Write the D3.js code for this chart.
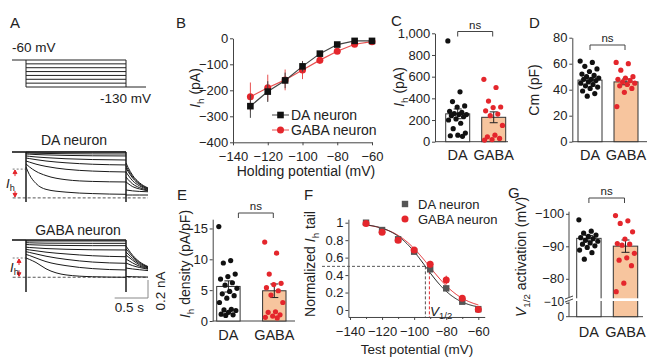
<!DOCTYPE html>
<html><head><meta charset="utf-8">
<script src="https://cdn.jsdelivr.net/npm/d3@7"></script>
<style>body{margin:0;background:#fff}svg{display:block}</style>
</head><body><svg id="c" width="650" height="357"></svg>
<script>
// ---------------- DATA ----------------
// Panel A: voltage protocol (mV) and current traces (pA, relative to holding)
const stepLevels = [-60, -70, -80, -90, -100, -110, -120, -130];
const holdingMV = -60, tailMV = -130;
const stepTimes = [0, 0.05, 0.15, 0.3, 0.6, 1.0, 1.5];
const tailTimes = [1.5, 1.53, 1.6, 1.7, 1.83];
const daStep = [
  [0, 0, 0, 0, 0, 0, 0],
  [-11, -12, -14, -16, -19, -21, -22],
  [-22, -24, -28, -32, -38, -42, -44],
  [-44, -48, -55, -63, -75, -84, -89],
  [-67, -73, -85, -100, -120, -136, -144],
  [-100, -112, -135, -160, -192, -212, -222],
  [-133, -165, -215, -262, -308, -327, -333],
  [-167, -250, -350, -415, -446, -462, -470]
];
const daTail = [
  [-122, -170, -260, -340, -400],
  [-156, -195, -275, -350, -405],
  [-178, -215, -290, -360, -410],
  [-222, -255, -320, -375, -418],
  [-278, -305, -355, -395, -425],
  [-333, -350, -385, -410, -432],
  [-422, -425, -432, -438, -442],
  [-478, -478, -478, -478, -478]
];
const gabaStep = [
  [-11, -11, -11, -11, -11, -11, -11],
  [-30, -31, -33, -35, -36, -37, -37],
  [-50, -52, -55, -58, -61, -63, -63],
  [-80, -83, -88, -95, -103, -109, -111],
  [-105, -110, -120, -135, -155, -175, -186],
  [-130, -138, -155, -180, -215, -245, -259],
  [-160, -172, -200, -240, -285, -318, -333],
  [-200, -215, -250, -320, -388, -408, -414]
];
const gabaTail = [
  [-67, -100, -170, -240, -295],
  [-100, -125, -185, -250, -300],
  [-133, -155, -205, -262, -305],
  [-167, -185, -225, -275, -310],
  [-211, -225, -255, -290, -318],
  [-256, -265, -285, -305, -325],
  [-311, -315, -322, -330, -340],
  [-405, -406, -408, -410, -412]
];
const daTransient = -555, gabaTransient = -578;
const daIhLevels = [-190, -510], gabaIhLevels = [-200, -414];
const scaleBarSec = 0.5, scaleBarPA = 200;

// Panel B: I-V
const hpV = [-130, -120, -110, -100, -90, -80, -70, -60];
const ihDA = [-261, -205, -162, -108, -59, -24, -10, -10];
const ihDAsem = [45, 40, 30, 20, 8, 6, 4, 3];
const ihGABA = [-225, -190, -160, -122, -84, -50, -23, -13];
const ihGABAsem = [55, 50, 40, 35, 15, 8, 5, 3];
const bTicksX = [-140, -120, -100, -80, -60];
const bTicksY = [0, -100, -200, -300, -400];

const groups = ["DA", "GABA"];
// Panel C: Ih (pA)
const cMeans = [257, 225], cSems = [45, 50];
const cDA = [930, 460, 370, 330, 320, 280, 270, 260, 250, 250, 240, 230, 210, 200, 170, 120, 80, 60, 55, 50];
const cGABA = [575, 500, 375, 320, 315, 285, 255, 240, 150, 60, 45, 30, 20, 15];
const cTicks = [0, 200, 400, 600, 800, 1000];
// Panel D: Cm (pF)
const dMeans = [47.4, 46.0], dSems = [1.5, 2.2];
const dDA = [62, 61, 58, 56, 54, 52, 51, 50, 49, 48, 48, 47, 46, 45, 44, 43, 42, 41, 39, 37, 35];
const dGABA = [61, 60, 55, 50, 49, 48, 47, 46, 45, 44, 43, 41, 38, 27];
const dTicks = [0, 20, 40, 60, 80];
// Panel E: Ih density (pA/pF)
const eMeans = [5.6, 4.9], eSems = [0.9, 1.1];
const eDA = [15.3, 9.8, 9.4, 7.6, 7.2, 6.8, 6.2, 5.8, 5.3, 4.8, 4.4, 4.1, 3.7, 3.0, 1.9, 1.8, 1.7, 1.4, 1.1, 1.0, 0.9];
const eGABA = [12.8, 11.0, 7.6, 6.1, 5.9, 5.4, 4.9, 4.2, 3.0, 1.5, 1.4, 1.0, 0.8, 0.6, 0.5];
const eTicks = [0, 5, 10, 15];
// Panel F: normalized tail current
const tpV = [-130, -120, -110, -100, -90, -80, -70, -60];
const ntDA = [1.0, 0.916, 0.81, 0.668, 0.466, 0.248, 0.095, 0.01];
const ntDAsem = [0.01, 0.02, 0.02, 0.02, 0.03, 0.02, 0.02, 0.01];
const ntGABA = [0.99, 0.89, 0.80, 0.687, 0.523, 0.343, 0.134, 0.005];
const ntGABAsem = [0.01, 0.03, 0.03, 0.03, 0.04, 0.05, 0.03, 0.01];
const fitDA = [-93, 10], fitGABA = [-90.5, 11]; // Boltzmann V1/2, slope k
const fTicksX = [-140, -120, -100, -80, -60];
const fTicksY = [0, 0.2, 0.4, 0.6, 0.8, 1];
// Panel G: V1/2 activation (mV)
const gMeans = [-92.6, -90.2], gSems = [0.9, 1.9];
const gDA = [-98.3, -94.8, -94.2, -93.6, -93.2, -92.8, -92.5, -92.0, -91.7, -91.2, -90.8, -90.3, -89.8, -89.0, -88.2, -86.2];
const gGABA = [-99.6, -98.0, -97.2, -94.6, -92.4, -91.0, -90.8, -90.5, -88.0, -86.6, -85.9, -84.2, -78.8, -76.2];
const gTicksUpper = [-100, -90, -80], gTicksLower = [-10, 0];

// ---------------- STYLE ----------------
const FONT = '"Liberation Sans", Arial, Helvetica, sans-serif';
const RED = '#e4262c', PEACH = '#f7c59e', INK = '#222', AX = '#444';
const TICK_FS = 13, LAB_FS = 14, CAT_FS = 14.5;

const svg = d3.select('#c').attr('font-family', FONT);

function txt(x, y, s, fs, anchor) {
  return svg.append('text').attr('x', x).attr('y', y).attr('font-size', fs)
    .attr('text-anchor', anchor || 'start').attr('fill', INK).text(s);
}
function rich(sel, parts, fs) {
  parts.forEach(p => {
    const ts = sel.append('tspan').text(p.t);
    if (p.i) ts.attr('font-style', 'italic');
    if (p.sub) ts.attr('font-size', fs * 0.7).attr('dy', fs * 0.25);
    if (p.back) ts.attr('dy', -fs * 0.25);
  });
}
function ylabel(x, y, parts, fs) {
  const t = svg.append('text').attr('transform', `translate(${x},${y}) rotate(-90)`)
    .attr('text-anchor', 'middle').attr('font-size', fs).attr('fill', INK);
  rich(t, parts, fs);
  return t;
}
function styleAxis(g, fs) {
  g.attr('font-family', FONT).attr('font-size', fs);
  g.selectAll('.domain').attr('stroke', AX);
  g.selectAll('.tick line').attr('stroke', AX);
  g.selectAll('.tick text').attr('fill', INK);
}
function panelLetter(x, y, s) { txt(x, y, s, 15); }

// ---------------- PANEL A ----------------
panelLetter(10, 28, 'A');
const tA = d3.scaleLinear().domain([0, 1.5]).range([26, 126]);
const vP = d3.scaleLinear().domain([-60, -130]).range([60, 87]);
txt(12, 52, '-60 mV', 13.5);
txt(151, 103, '-130 mV', 13.5, 'end');
const gP = svg.append('g').attr('stroke', '#222').attr('stroke-width', 1).attr('fill', 'none');
stepLevels.forEach(v => gP.append('line').attr('x1', tA(0)).attr('x2', tA(1.5)).attr('y1', vP(v)).attr('y2', vP(v)));
gP.append('line').attr('x1', tA(-0.21)).attr('x2', tA(0)).attr('y1', vP(holdingMV)).attr('y2', vP(holdingMV));
[0, 1.5].forEach(t => gP.append('line').attr('x1', tA(t)).attr('x2', tA(t)).attr('y1', vP(holdingMV)).attr('y2', vP(tailMV)));
gP.append('line').attr('x1', tA(1.5)).attr('x2', tA(1.8)).attr('y1', vP(tailMV)).attr('y2', vP(tailMV));

function drawTraces(y0, steps, tails, transient, ihLv, arrowX, label, labelX, labelY) {
  const yS = d3.scaleLinear().domain([0, -500]).range([y0, y0 + 45]);
  txt(labelX, labelY, label, LAB_FS, 'middle');
  const g = svg.append('g').attr('fill', 'none').attr('stroke', '#1a1a1a').attr('stroke-width', 1);
  const line = d3.line().x(d => tA(d[0])).y(d => yS(d[1])).curve(d3.curveMonotoneX);
  g.append('line').attr('x1', tA(-0.2)).attr('x2', tA(1.83)).attr('y1', yS(ihLv[1])).attr('y2', yS(ihLv[1]))
    .attr('stroke', '#555').attr('stroke-dasharray', '3,2');
  g.append('line').attr('x1', tA(-0.2)).attr('x2', tA(0)).attr('y1', yS(ihLv[0])).attr('y2', yS(ihLv[0]))
    .attr('stroke', '#777').attr('stroke-dasharray', '2,2');
  g.append('path').attr('d', line([[-0.21, 0], [0, 0]])).attr('stroke-width', 1.6);
  steps.forEach(tr => g.append('path').attr('d', line(stepTimes.map((t, i) => [t, tr[i]]))));
  tails.forEach(tr => g.append('path').attr('d', line(tailTimes.map((t, i) => [t, tr[i]]))));
  g.append('path').attr('d', line([[0, 0], [1.5, 0]])).attr('stroke-width', 1.6);
  [0, 1.5].forEach(t => g.append('line').attr('x1', tA(t)).attr('x2', tA(t))
    .attr('y1', yS(0)).attr('y2', yS(transient)).attr('stroke-width', 1.5));
  const ya = yS(ihLv[0]), yb = yS(ihLv[1]);
  const ga = svg.append('g').attr('stroke', RED).attr('fill', RED).attr('stroke-width', 1);
  ga.append('line').attr('x1', arrowX).attr('x2', arrowX).attr('y1', ya + 1).attr('y2', ya + 7);
  ga.append('path').attr('d', `M${arrowX},${ya + 1}l-2,3.5h4z`);
  ga.append('line').attr('x1', arrowX).attr('x2', arrowX).attr('y1', yb - 7).attr('y2', yb - 1);
  ga.append('path').attr('d', `M${arrowX},${yb - 1}l-2,-3.5h4z`);
  const lt = svg.append('text').attr('x', arrowX - 9).attr('y', (ya + yb) / 2 + 4).attr('font-size', 13).attr('fill', INK);
  rich(lt, [{ t: 'I', i: 1 }, { t: 'h', sub: 1 }], 13);
  return yS;
}
drawTraces(152, daStep, daTail, daTransient, daIhLevels, 15, 'DA neuron', 74, 145);
const yGa = drawTraces(240, gabaStep, gabaTail, gabaTransient, gabaIhLevels, 19, 'GABA neuron', 78, 235);
{
  const xr = 148, yb = 298;
  const w = tA(scaleBarSec) - tA(0), h = yGa(-scaleBarPA) - yGa(0);
  svg.append('path').attr('d', `M${xr - w},${yb}H${xr}V${yb - h}`).attr('fill', 'none').attr('stroke', '#888').attr('stroke-width', 1);
  txt(xr - w / 2 - 2, 312, '0.5 s', 13.5, 'middle');
  svg.append('text').attr('transform', `translate(${165},${yb - h / 2 + 2}) rotate(-90)`).attr('text-anchor', 'middle')
    .attr('font-size', 13.5).attr('fill', INK).text('0.2 nA');
}

// ---------------- PANEL B ----------------
panelLetter(176, 28, 'B');
const xB = d3.scaleLinear().domain([-140, -60]).range([233, 372]);
const yB = d3.scaleLinear().domain([-400, 0]).range([142.3, 38.3]);
styleAxis(svg.append('g').attr('transform', 'translate(0,142.3)')
  .call(d3.axisBottom(xB).tickValues(bTicksX).tickSize(3).tickPadding(6.5).tickSizeOuter(0)), TICK_FS);
styleAxis(svg.append('g').attr('transform', 'translate(233,0)')
  .call(d3.axisLeft(yB).tickValues(bTicksY).tickSize(3).tickPadding(1.8).tickSizeOuter(0)), TICK_FS);
txt(306, 176, 'Holding potential (mV)', LAB_FS, 'middle');
ylabel(200, 88, [{ t: 'I', i: 1 }, { t: 'h', sub: 1 }, { t: ' (pA)', back: 1 }], LAB_FS);
function ivSeries(means, sems, col, lineCol, shape) {
  const g = svg.append('g');
  hpV.forEach((v, i) => g.append('line').attr('x1', xB(v)).attr('x2', xB(v))
    .attr('y1', yB(means[i] - sems[i])).attr('y2', yB(means[i] + sems[i])).attr('stroke', lineCol).attr('stroke-width', 1));
  g.append('path').attr('d', d3.line().x((d, i) => xB(hpV[i])).y(d => yB(d))(means))
    .attr('fill', 'none').attr('stroke', lineCol).attr('stroke-width', 1.2);
  means.forEach((m, i) => {
    if (shape === 'sq') g.append('rect').attr('x', xB(hpV[i]) - 3.3).attr('y', yB(m) - 3.3).attr('width', 6.6).attr('height', 6.6).attr('fill', col);
    else g.append('circle').attr('cx', xB(hpV[i])).attr('cy', yB(m)).attr('r', 3.5).attr('fill', col);
  });
}
ivSeries(ihGABA, ihGABAsem, RED, '#e85050', 'c');
ivSeries(ihDA, ihDAsem, '#111', '#444', 'sq');
svg.append('line').attr('x1', 272).attr('x2', 289).attr('y1', 115).attr('y2', 115).attr('stroke', '#444');
svg.append('rect').attr('x', 280.5 - 3.3).attr('y', 115 - 3.3).attr('width', 6.6).attr('height', 6.6).attr('fill', '#111');
txt(291, 120, 'DA neuron', LAB_FS);
svg.append('line').attr('x1', 272).attr('x2', 289).attr('y1', 130).attr('y2', 130).attr('stroke', '#e85050');
svg.append('circle').attr('cx', 280.5).attr('cy', 130).attr('r', 3.5).attr('fill', RED);
txt(291, 135, 'GABA neuron', LAB_FS);

// ---------------- BAR PANELS ----------------
function jit(i) { return ((i * 0.618034) % 1) - 0.5; }
function drawBars(xS, yF, yBase, means, sems, dotSets, ySplit) {
  const bw = xS.bandwidth();
  groups.forEach((gname, k) => {
    const x0 = xS(gname);
    svg.append('rect').attr('x', x0).attr('width', bw).attr('y', Math.min(yF(means[k]), yBase))
      .attr('height', Math.abs(yBase - yF(means[k])))
      .attr('fill', k === 0 ? '#fff' : PEACH).attr('stroke', '#333').attr('stroke-width', 1);
    if (ySplit) svg.append('rect').attr('x', x0 - 1.5).attr('width', bw + 3).attr('y', ySplit[0]).attr('height', ySplit[1] - ySplit[0]).attr('fill', '#fff');
    const cx = x0 + bw / 2;
    const ya = yF(means[k] - sems[k]), yb = yF(means[k] + sems[k]);
    const eg = svg.append('g').attr('stroke', '#222').attr('stroke-width', 1);
    eg.append('line').attr('x1', cx).attr('x2', cx).attr('y1', ya).attr('y2', yb);
    [ya, yb].forEach(yy => eg.append('line').attr('x1', cx - 4).attr('x2', cx + 4).attr('y1', yy).attr('y2', yy));
    dotSets[k].forEach((v, i) => svg.append('circle').attr('cx', cx + jit(i) * bw * 0.82).attr('cy', yF(v))
      .attr('r', 2.6).attr('fill', k === 0 ? '#111' : RED));
  });
}
function bracket(x1, x2, y, label) {
  svg.append('path').attr('d', `M${x1},${y + 5}V${y}H${x2}V${y + 5}`).attr('fill', 'none').attr('stroke', '#444').attr('stroke-width', 1);
  txt((x1 + x2) / 2, y - 3, label, 11.5, 'middle');
}
function catLabels(xS, y) {
  groups.forEach(g => txt(xS(g) + xS.bandwidth() / 2, y, g, CAT_FS, 'middle'));
}
function barPanel(o) {
  const y = d3.scaleLinear().domain(o.yDomain).range(o.yRange);
  const xS = d3.scaleBand().domain(groups).range(o.xRange).paddingInner(o.pad).paddingOuter(0);
  styleAxis(svg.append('g').attr('transform', `translate(${o.axisX},0)`)
    .call(d3.axisLeft(y).tickValues(o.ticks).tickSize(3).tickPadding(1.8).tickSizeOuter(0)), TICK_FS);
  svg.append('line').attr('x1', o.axisX).attr('x2', o.axisEnd).attr('y1', o.yRange[0]).attr('y2', o.yRange[0]).attr('stroke', AX);
  drawBars(xS, y, o.yRange[0], o.means, o.sems, o.dots);
  catLabels(xS, o.catY);
  const c0 = xS('DA') + xS.bandwidth() / 2, c1 = xS('GABA') + xS.bandwidth() / 2;
  bracket(c0 + (o.bIn || 0), c1 - 1, o.bracketY, 'ns');
  return { y, xS };
}
// C
panelLetter(391, 26, 'C');
barPanel({ yDomain: [0, 1000], yRange: [141.7, 33.3], xRange: [445.7, 505.7], pad: 1 / 3, axisX: 435, axisEnd: 508,
  ticks: cTicks, means: cMeans, sems: cSems, dots: [cDA, cGABA], catY: 160, bracketY: 31.5 });
ylabel(404, 87, [{ t: 'I', i: 1 }, { t: 'h', sub: 1 }, { t: ' (pA)', back: 1 }], LAB_FS);
// D
panelLetter(529, 28, 'D');
barPanel({ yDomain: [0, 80], yRange: [141.7, 37.7], xRange: [578, 638], pad: 1 / 3, axisX: 572.3, axisEnd: 647,
  ticks: dTicks, means: dMeans, sems: dSems, dots: [dDA, dGABA], catY: 160, bracketY: 45 });
ylabel(539, 90, [{ t: 'Cm (pF)' }], LAB_FS);
// E
panelLetter(177, 200, 'E');
barPanel({ yDomain: [0, 16.5], yRange: [321, 219.2], xRange: [216.7, 286], pad: 0.49, axisX: 212.7, axisEnd: 295,
  ticks: eTicks, means: eMeans, sems: eSems, dots: [eDA, eGABA], catY: 340, bracketY: 213, bIn: 10 });
ylabel(190, 264, [{ t: 'I', i: 1 }, { t: 'h', sub: 1 }, { t: ' density (pA/pF)', back: 1 }], LAB_FS);

// ---------------- PANEL F ----------------
panelLetter(304, 200, 'F');
const xF = d3.scaleLinear().domain([-140, -60]).range([350, 478.3]);
const yF = d3.scaleLinear().domain([0, 1]).range([310, 222.7]);
const xFa = xF.copy().domain([-141, -56]).range([xF(-141), xF(-56)]);
const yFa = yF.copy().domain([-0.08, 1.04]).range([yF(-0.08), yF(1.04)]);
styleAxis(svg.append('g').attr('transform', `translate(0,${yF(-0.08)})`)
  .call(d3.axisBottom(xFa).tickValues(fTicksX).tickFormat(d3.format('d')).tickSize(3).tickPadding(6.5).tickSizeOuter(0)), TICK_FS);
svg.append('g').attr('transform', `translate(0,${yF(-0.08)})`)
  .call(d3.axisBottom(xFa).tickValues(d3.range(-130, -60, 20)).tickFormat('').tickSize(2).tickSizeOuter(0))
  .call(g => { g.select('.domain').remove(); g.selectAll('line').attr('stroke', AX); });
styleAxis(svg.append('g').attr('transform', `translate(${xF(-141)},0)`)
  .call(d3.axisLeft(yFa).tickValues(fTicksY).tickFormat(d3.format('~g')).tickSize(3).tickPadding(1.8).tickSizeOuter(0)), TICK_FS);
txt(417, 354, 'Test potential (mV)', LAB_FS - 0.5, 'middle');
ylabel(315, 264, [{ t: 'Normalized ' }, { t: 'I', i: 1 }, { t: 'h', sub: 1 }, { t: ' tail', back: 1 }], LAB_FS);
svg.append('line').attr('x1', 322).attr('x2', xF(fitGABA[0])).attr('y1', yF(0.5)).attr('y2', yF(0.5))
  .attr('stroke', '#555').attr('stroke-dasharray', '3,2');
svg.append('line').attr('x1', xF(fitDA[0])).attr('x2', xF(fitDA[0])).attr('y1', yF(0.5)).attr('y2', yF(-0.08))
  .attr('stroke', '#555').attr('stroke-dasharray', '3,2');
svg.append('line').attr('x1', xF(fitGABA[0])).attr('x2', xF(fitGABA[0])).attr('y1', yF(0.5)).attr('y2', yF(-0.08))
  .attr('stroke', RED).attr('stroke-dasharray', '3,2');
const boltz = p => v => 1 / (1 + Math.exp((v - p[0]) / p[1]));
const fitX = d3.range(-132, -59.9, 0.5);
[[fitGABA, RED], [fitDA, '#222']].forEach(([p, c]) => svg.append('path')
  .attr('d', d3.line().x(v => xF(v)).y(v => yF(boltz(p)(v)))(fitX)).attr('fill', 'none').attr('stroke', c).attr('stroke-width', 1));
function fPts(vals, sems, col, shape) {
  tpV.forEach((v, i) => {
    svg.append('line').attr('x1', xF(v)).attr('x2', xF(v)).attr('y1', yF(vals[i] - sems[i])).attr('y2', yF(vals[i] + sems[i])).attr('stroke', col);
    if (shape === 'sq') svg.append('rect').attr('x', xF(v) - 3.2).attr('y', yF(vals[i]) - 3.2).attr('width', 6.4).attr('height', 6.4).attr('fill', col);
    else svg.append('circle').attr('cx', xF(v)).attr('cy', yF(vals[i])).attr('r', 3.5).attr('fill', col);
  });
}
fPts(ntDA, ntDAsem, '#555', 'sq');
fPts(ntGABA, ntGABAsem, RED, 'c');
const vt = svg.append('text').attr('x', 430).attr('y', 316).attr('font-size', 13.5).attr('fill', INK);
rich(vt, [{ t: 'V', i: 1 }, { t: '1/2', sub: 1 }], 13.5);
svg.append('rect').attr('x', 405 - 3.2).attr('y', 204 - 3.2).attr('width', 6.4).attr('height', 6.4).attr('fill', '#555');
txt(418, 208.5, 'DA neuron', 13);
svg.append('circle').attr('cx', 405).attr('cy', 219).attr('r', 3.5).attr('fill', RED);
txt(418, 224, 'GABA neuron', 13);

// ---------------- PANEL G ----------------
panelLetter(508, 198, 'G');
{
  const yU = d3.scaleLinear().domain([-100, -80]).range([214.3, 279.3]);
  const yL = d3.scaleLinear().domain([0, -10]).range([316.7, 303.3]);
  const yG = v => (v < -40 ? yU(v) : yL(v));
  const axX = 569;
  const g = svg.append('g');
  g.append('line').attr('x1', axX).attr('x2', axX).attr('y1', yU(-100.8)).attr('y2', yU(-74.5)).attr('stroke', AX);
  g.append('line').attr('x1', axX).attr('x2', axX).attr('y1', yL(-11.3)).attr('y2', yL(0)).attr('stroke', AX);
  [[gTicksUpper, yU, TICK_FS, 0], [gTicksLower, yL, 12, -0.8]].forEach(([tk, s, fs, dy]) => tk.forEach(v => {
    g.append('line').attr('x1', axX - 3).attr('x2', axX).attr('y1', s(v)).attr('y2', s(v)).attr('stroke', AX);
    g.append('text').attr('x', axX - 4.8).attr('y', s(v) + (v === 0 ? 0.6 : dy)).attr('dy', '0.32em').attr('text-anchor', 'end')
      .attr('font-size', fs).attr('fill', INK).text(d3.format('d')(v));
  }));
  svg.append('line').attr('x1', axX).attr('x2', 643).attr('y1', yL(0)).attr('y2', yL(0)).attr('stroke', AX);
  const xS = d3.scaleBand().domain(groups).range([576.7, 637.7]).paddingInner(1 / 3).paddingOuter(0);
  drawBars(xS, yG, yL(0), gMeans, gSems, [gDA, gGABA], [298.3, 301]);
  svg.append('path').attr('d', `M${axX - 4},${299}l8,-3M${axX - 4},${302}l8,-3`).attr('stroke', AX).attr('fill', 'none');
  catLabels(xS, 337);
  bracket(xS('DA') + xS.bandwidth() / 2, xS('GABA') + xS.bandwidth() / 2 - 1, 198, 'ns');
  ylabel(526, 257, [{ t: 'V', i: 1 }, { t: '1/2', sub: 1 }, { t: ' activation (mV)', back: 1 }], LAB_FS);
}
</script></body></html>
